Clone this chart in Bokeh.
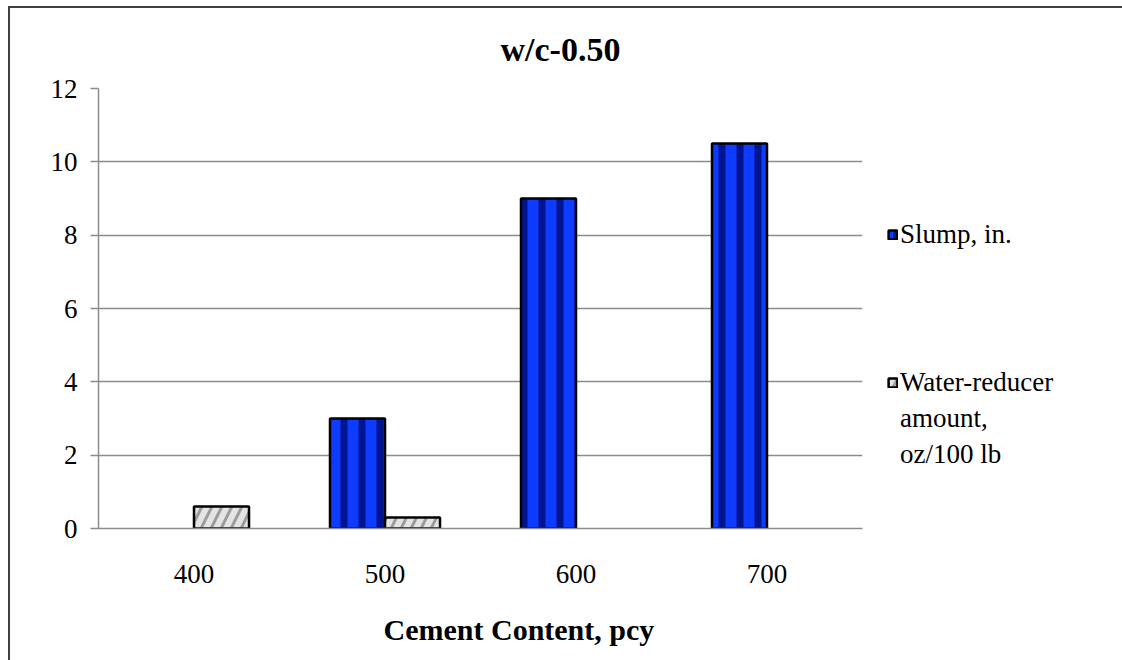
from bokeh.plotting import figure
from bokeh.models import ColumnDataSource, Legend, LegendItem, FixedTicker, CDSView, BooleanFilter, Title
from bokeh.transform import dodge
from bokeh.embed import file_html
from bokeh.resources import INLINE

categories = ["400", "500", "600", "700"]
slump = [0, 3, 9, 10.5]
water_reducer = [0.6, 0.3, 0, 0]
y_ticks = [0, 2, 4, 6, 8, 10, 12]
legend_slump = "Slump, in."
legend_wr_lines = ["Water-reducer", "amount,", "oz/100 lb"]

src = ColumnDataSource(data=dict(cat=categories, slump=slump, wr=water_reducer))
view_s = CDSView(filter=BooleanFilter([v > 0 for v in slump]))
view_w = CDSView(filter=BooleanFilter([v > 0 for v in water_reducer]))

FONT = "Liberation Serif"

p = figure(
    x_range=categories, y_range=(0, 12),
    frame_width=764, frame_height=440,
    min_border_left=88, min_border_top=80, min_border_bottom=130, min_border_right=40,
    output_backend="svg", toolbar_location=None,
)
p.styles = {"margin-left": "8px", "margin-top": "6px",
            "border-left": "2px solid #404040", "border-top": "2px solid #404040"}

r1 = p.vbar(x=dodge("cat", -0.144, range=p.x_range), top="slump", width=0.288, source=src, view=view_s,
            fill_color="#0D3BFF", line_color="black", line_width=2.5,
            hatch_pattern="vertical_line", hatch_color="#001490", hatch_scale=18, hatch_weight=7)
r2 = p.vbar(x=dodge("cat", 0.144, range=p.x_range), top="wr", width=0.288, source=src, view=view_w,
            fill_color="#9C9C9C", line_color="black", line_width=2.5,
            hatch_pattern="right_diagonal_line", hatch_color="#E4E4E4", hatch_scale=20, hatch_weight=6)
# empty, invisible renderer used only to give legend text lines without a swatch
blank = p.vbar(x=[], top=[], width=0.1, fill_alpha=0, line_alpha=0)

title = Title(text="w/c-0.50", align="left", offset=402, standoff=41,
              text_font=FONT, text_font_size="34px", text_font_style="bold", text_color="black")
p.add_layout(title, "above")

p.outline_line_color = None
p.background_fill_color = "white"
p.border_fill_color = "white"

p.xgrid.grid_line_color = None
p.ygrid.grid_line_color = "#8C8C8C"
p.ygrid.grid_line_width = 1.5
p.yaxis.ticker = FixedTicker(ticks=y_ticks)

for ax in (p.xaxis, p.yaxis):
    ax.axis_line_color = "#8C8C8C"
    ax.axis_line_width = 1.5
    ax.major_label_text_font = FONT
    ax.major_label_text_font_size = "27px"
    ax.major_label_text_color = "black"
    ax.minor_tick_line_color = None

p.yaxis.major_tick_line_color = "#8C8C8C"
p.yaxis.major_tick_line_width = 1.5
p.yaxis.major_tick_out = 8
p.yaxis.major_tick_in = 0
p.yaxis.major_label_standoff = 13

p.xaxis.major_tick_line_color = None
p.xaxis.major_label_standoff = 30

xlabel = Title(text="Cement Content, pcy", align="left", offset=285, standoff=51,
               text_font=FONT, text_font_size="30px", text_font_style="bold", text_color="black")
p.add_layout(xlabel, "below")

items = [LegendItem(label=legend_slump, renderers=[r1])]
items += [LegendItem(label=" ", renderers=[blank]) for _ in range(7)]
items.append(LegendItem(label=legend_wr_lines[0], renderers=[r2]))
items += [LegendItem(label=t, renderers=[blank]) for t in legend_wr_lines[1:]]

legend = Legend(items=items, location=(25, 58), orientation="vertical",
                label_text_font=FONT, label_text_font_size="27px", label_text_color="black")
legend.glyph_width = 11
legend.glyph_height = 11
legend.spacing = 5
legend.label_standoff = 2
legend.border_line_color = None
legend.background_fill_alpha = 0
legend.padding = 0
legend.margin = 0
legend.click_policy = "none"
p.add_layout(legend, "right")

open("out.html", "w").write(file_html(p, INLINE))
